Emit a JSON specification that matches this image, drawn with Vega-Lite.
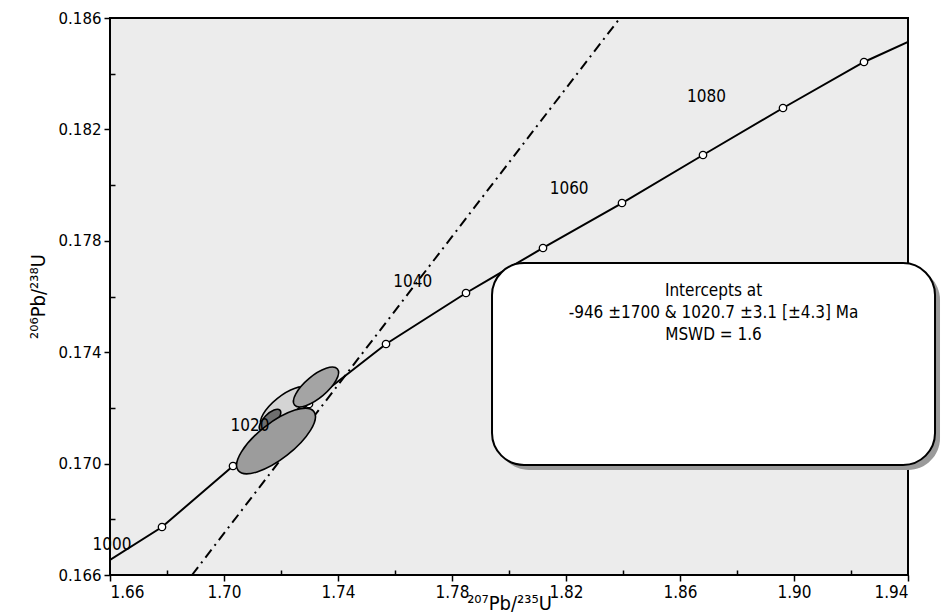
{
  "$schema": "https://vega.github.io/schema/vega-lite/v6.json",
  "width": 798,
  "height": 557,
  "autosize": {"type": "none"},
  "padding": {"left": 110, "top": 18, "right": 33, "bottom": 40},
  "background": "white",
  "config": {
    "view": {"fill": "#ececec", "stroke": "black", "strokeWidth": 2},
    "axis": {"domain": false, "grid": false, "tickColor": "black", "tickWidth": 1.5, "labelColor": "black", "titleColor": "black", "labelOverlap": false, "labelBound": false}
  },
  "datasets": {
    "concordia": [
      {"t": null, "x": 1.66, "y": 0.166538},
      {"t": 1000, "x": 1.678246, "y": 0.167723},
      {"t": 1010, "x": 1.703158, "y": 0.169914},
      {"t": 1020, "x": 1.729825, "y": 0.172140},
      {"t": 1030, "x": 1.756842, "y": 0.174294},
      {"t": 1040, "x": 1.784912, "y": 0.176126},
      {"t": 1050, "x": 1.81193, "y": 0.177742},
      {"t": 1060, "x": 1.839649, "y": 0.179357},
      {"t": 1070, "x": 1.86807, "y": 0.181081},
      {"t": 1080, "x": 1.89614, "y": 0.182768},
      {"t": 1090, "x": 1.924561, "y": 0.18442},
      {"t": null, "x": 1.94, "y": 0.185138}
    ],
    "discordia": [
      {"x": 1.688772, "y": 0.166},
      {"x": 1.838947, "y": 0.186}
    ],
    "ages": [
      {"label": "1000", "x": 1.6607, "y": 0.16708},
      {"label": "1020", "x": 1.709123, "y": 0.17135},
      {"label": "1040", "x": 1.7662, "y": 0.17652},
      {"label": "1060", "x": 1.8211, "y": 0.17986},
      {"label": "1080", "x": 1.8693, "y": 0.18316}
    ],
    "ellipses": [
      {"id": "c", "x": 1.721053, "y": 0.172032},
      {"id": "d", "x": 1.71614, "y": 0.171566},
      {"id": "b", "x": 1.73228, "y": 0.17275},
      {"id": "a", "x": 1.71825, "y": 0.170811}
    ],
    "box": [
      {"x": 1.79404, "x2": 1.94948, "y": 0.1772, "y2": 0.16995}
    ],
    "boxtext": [
      {"line": "Intercepts at", "x": 1.87176, "y": 0.1762},
      {"line": "-946 ±1700 & 1020.7 ±3.1     [±4.3]   Ma", "x": 1.87176, "y": 0.17541},
      {"line": "MSWD = 1.6", "x": 1.87176, "y": 0.17462}
    ]
  },
  "layer": [
    {
      "data": {"name": "concordia"},
      "mark": {"type": "line", "color": "black", "strokeWidth": 2, "clip": true},
      "encoding": {
        "x": {
          "field": "x", "type": "quantitative",
          "scale": {"domain": [1.66, 1.94], "zero": false, "nice": false},
          "axis": {
            "values": [1.66, 1.68, 1.70, 1.72, 1.74, 1.76, 1.78, 1.80, 1.82, 1.84, 1.86, 1.88, 1.90, 1.92, 1.94],
            "labelExpr": "abs((datum.value - 1.66) / 0.04 - round((datum.value - 1.66) / 0.04)) < 0.01 ? format(datum.value, '.2f') : ''",
            "tickSize": {"condition": {"test": "abs((datum.value - 1.66) / 0.04 - round((datum.value - 1.66) / 0.04)) < 0.01", "value": 6}, "value": -5},
            "labelPadding": 3,
            "labelFont": "Liberation Sans Narrow, DejaVu Sans Condensed, sans-serif",
            "labelFontSize": 17,
            "title": "²⁰⁷Pb/²³⁵U",
            "titleFont": "Liberation Sans Narrow, DejaVu Sans Condensed, sans-serif",
            "titleFontSize": 20,
            "titleFontWeight": "normal",
            "titleX": 399,
            "titleY": 28,
            "titleBaseline": "middle"
          }
        },
        "y": {
          "field": "y", "type": "quantitative",
          "scale": {"domain": [0.166, 0.186], "zero": false, "nice": false},
          "axis": {
            "values": [0.166, 0.168, 0.170, 0.172, 0.174, 0.176, 0.178, 0.180, 0.182, 0.184, 0.186],
            "labelExpr": "abs((datum.value - 0.166) / 0.004 - round((datum.value - 0.166) / 0.004)) < 0.01 ? format(datum.value, '.3f') : ''",
            "tickSize": {"condition": {"test": "abs((datum.value - 0.166) / 0.004 - round((datum.value - 0.166) / 0.004)) < 0.01", "value": 6}, "value": -5},
            "labelPadding": 3,
            "labelFont": "DejaVu Sans, sans-serif",
            "labelFontSize": 15,
            "title": "²⁰⁶Pb/²³⁸U",
            "titleFont": "Liberation Sans Narrow, DejaVu Sans Condensed, sans-serif",
            "titleFontSize": 20,
            "titleFontWeight": "normal",
            "titleAngle": -90,
            "titleX": -72,
            "titleY": 278,
            "titleBaseline": "middle"
          }
        }
      }
    },
    {
      "data": {"name": "discordia"},
      "mark": {"type": "line", "color": "black", "strokeWidth": 2, "strokeDash": [10, 5, 2, 5], "clip": true},
      "encoding": {
        "x": {"field": "x", "type": "quantitative"},
        "y": {"field": "y", "type": "quantitative"}
      }
    },
    {
      "data": {"name": "concordia"},
      "transform": [{"filter": "isValid(datum.t)"}],
      "mark": {"type": "point", "shape": "circle", "filled": true, "fill": "white", "stroke": "black", "strokeWidth": 1.3, "size": 55, "opacity": 1},
      "encoding": {
        "x": {"field": "x", "type": "quantitative"},
        "y": {"field": "y", "type": "quantitative"}
      }
    },
    {
      "data": {"name": "ellipses"},
      "mark": {"type": "point", "filled": true, "stroke": "black", "strokeWidth": 1.6, "size": 10000, "opacity": 1, "fillOpacity": 1},
      "encoding": {
        "x": {"field": "x", "type": "quantitative"},
        "y": {"field": "y", "type": "quantitative"},
        "shape": {
          "field": "id", "type": "nominal", "legend": null,
          "scale": {
            "domain": ["a", "b", "c", "d"],
            "range": [
              "M -0.7565 0.5911 A 0.96 0.36 -38 0 0 0.7565 -0.5911 A 0.96 0.36 -38 0 0 -0.7565 0.5911 Z",
              "M -0.429 0.36 A 0.56 0.22 -40 0 0 0.429 -0.36 A 0.56 0.22 -40 0 0 -0.429 0.36 Z",
              "M -0.4507 0.365 A 0.58 0.22 -39 0 0 0.4507 -0.365 A 0.58 0.22 -39 0 0 -0.4507 0.365 Z",
              "M -0.198 0.198 A 0.28 0.12 -45 0 0 0.198 -0.198 A 0.28 0.12 -45 0 0 -0.198 0.198 Z"
            ]
          }
        },
        "fill": {
          "field": "id", "type": "nominal", "legend": null,
          "scale": {"domain": ["a", "b", "c", "d"], "range": ["#9c9c9c", "#a4a4a4", "#d4d4d4", "#6e6e6e"]}
        }
      }
    },
    {
      "data": {"name": "ages"},
      "mark": {"type": "text", "font": "Liberation Sans Narrow, DejaVu Sans Condensed, sans-serif", "fontSize": 17, "color": "black", "align": "center", "baseline": "middle"},
      "encoding": {
        "x": {"field": "x", "type": "quantitative"},
        "y": {"field": "y", "type": "quantitative"},
        "text": {"field": "label"}
      }
    },
    {
      "data": {"name": "box"},
      "mark": {"type": "rect", "fill": "#9a9a9a", "cornerRadius": 32, "xOffset": 5, "x2Offset": 5, "yOffset": 5, "y2Offset": 5},
      "encoding": {
        "x": {"field": "x", "type": "quantitative"},
        "x2": {"field": "x2"},
        "y": {"field": "y", "type": "quantitative"},
        "y2": {"field": "y2"}
      }
    },
    {
      "data": {"name": "box"},
      "mark": {"type": "rect", "fill": "white", "stroke": "black", "strokeWidth": 2, "cornerRadius": 32},
      "encoding": {
        "x": {"field": "x", "type": "quantitative"},
        "x2": {"field": "x2"},
        "y": {"field": "y", "type": "quantitative"},
        "y2": {"field": "y2"}
      }
    },
    {
      "data": {"name": "boxtext"},
      "mark": {"type": "text", "font": "Liberation Sans Narrow, DejaVu Sans Condensed, sans-serif", "fontSize": 17, "color": "black", "align": "center", "baseline": "middle"},
      "encoding": {
        "x": {"field": "x", "type": "quantitative"},
        "y": {"field": "y", "type": "quantitative"},
        "text": {"field": "line"}
      }
    }
  ]
}
